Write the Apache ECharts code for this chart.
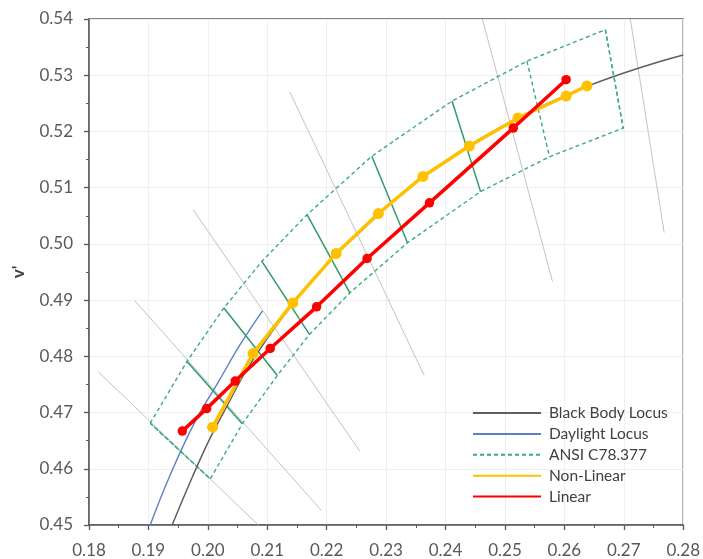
<!DOCTYPE html>
<html>
<head>
<meta charset="utf-8">
<script src="https://cdn.jsdelivr.net/npm/echarts@6/dist/echarts.min.js"></script>
<style>
  html, body { margin: 0; padding: 0; background: #ffffff; }
  #chart { width: 703px; height: 559px; }
</style>
</head>
<body>
<div id="chart"></div>
<script>
// Axis ticks
const xTicks = [0.18, 0.19, 0.20, 0.21, 0.22, 0.23, 0.24, 0.25, 0.26, 0.27, 0.28];
const yTicks = [0.45, 0.46, 0.47, 0.48, 0.49, 0.50, 0.51, 0.52, 0.53, 0.54];

// Planckian (black body) locus in u'v'
const bbU = [0.1940, 0.1975, 0.2004, 0.2035, 0.2062, 0.2100, 0.2143, 0.2180, 0.2216, 0.2251,
             0.2287, 0.2325, 0.2362, 0.2400, 0.2440, 0.2480, 0.2522, 0.2560, 0.2603, 0.2640,
             0.2700, 0.2750, 0.2800];
const bbV = [0.4500, 0.4588, 0.4655, 0.4717, 0.4770, 0.4832, 0.4893, 0.4940, 0.4982, 0.5016,
             0.5052, 0.5088, 0.5118, 0.5147, 0.5175, 0.5200, 0.5224, 0.5244, 0.5264, 0.5281,
             0.5304, 0.5321, 0.5336];

// Daylight locus (D75 .. D50)
const dayU = [0.1903, 0.1935, 0.1978, 0.2018, 0.2055, 0.2092];
const dayV = [0.4500, 0.4585, 0.4683, 0.4755, 0.4822, 0.4881];

// ANSI C78.377 quadrangle corners: upper and lower edges, 6500 K -> 2700 K
const ansiUpperU = [0.1903, 0.1965, 0.2027, 0.2091, 0.2167, 0.2276, 0.2411, 0.2537, 0.2669];
const ansiUpperV = [0.4681, 0.4791, 0.4886, 0.4969, 0.5052, 0.5156, 0.5254, 0.5325, 0.5381];
const ansiLowerU = [0.2004, 0.2058, 0.2117, 0.2171, 0.2239, 0.2336, 0.2459, 0.2575, 0.2699];
const ansiLowerV = [0.4582, 0.4680, 0.4766, 0.4839, 0.4913, 0.5002, 0.5093, 0.5155, 0.5206];
// dividers drawn solid (indices into the corner lists); the rest are dashed
const solidDividers = [1, 2, 3, 4, 5, 6];
const dashedDividers = [0, 7, 8];

// Iso-CCT lines: start u, start v, end u, end v
const isoStartU = [0.1815, 0.1877, 0.1975, 0.2138, 0.2462, 0.2711];
const isoStartV = [0.4773, 0.4899, 0.5061, 0.5270, 0.5400, 0.5400];
const isoEndU   = [0.2085, 0.2191, 0.2256, 0.2364, 0.2580, 0.2768];
const isoEndV   = [0.4500, 0.4526, 0.4631, 0.4766, 0.4933, 0.5020];

// Measured chromaticities
const nonLinearU = [0.2008, 0.2076, 0.2143, 0.2216, 0.2287, 0.2362, 0.2440, 0.2522, 0.2603, 0.2638];
const nonLinearV = [0.4674, 0.4805, 0.4895, 0.4983, 0.5054, 0.5120, 0.5174, 0.5224, 0.5263, 0.5281];
const linearU = [0.1957, 0.1998, 0.2046, 0.2105, 0.2183, 0.2268, 0.2373, 0.2514, 0.2603];
const linearV = [0.4667, 0.4707, 0.4756, 0.4814, 0.4888, 0.4974, 0.5073, 0.5206, 0.5292];

const zip = (us, vs) => us.map((u, i) => [u, vs[i]]);

const GREEN_DASH = '#3dab7d';
const GREEN_SOLID = '#2f9b69';
const AXIS = '#595959';

const series = [];

// iso-CCT lines
isoStartU.forEach((u, i) => {
  series.push({
    type: 'line', name: 'iso' + i, silent: true, symbol: 'none', z: 1,
    data: [[u, isoStartV[i]], [isoEndU[i], isoEndV[i]]],
    lineStyle: { color: '#c3c3c3', width: 1 }
  });
});

// ANSI outline (upper edge, far end, lower edge back, near end)
const outline = zip(ansiUpperU, ansiUpperV).concat(zip(ansiLowerU, ansiLowerV).reverse());
outline.push([ansiUpperU[0], ansiUpperV[0]]);
series.push({
  type: 'line', name: 'ANSI C78.377', symbol: 'none', z: 2,
  data: outline,
  lineStyle: { color: GREEN_DASH, width: 1.4, type: [4, 3] }
});
dashedDividers.forEach(k => {
  series.push({
    type: 'line', name: 'ANSI C78.377', symbol: 'none', z: 2,
    data: [[ansiUpperU[k], ansiUpperV[k]], [ansiLowerU[k], ansiLowerV[k]]],
    lineStyle: { color: GREEN_DASH, width: 1.4, type: [4, 3] }
  });
});
solidDividers.forEach(k => {
  series.push({
    type: 'line', name: 'divider' + k, symbol: 'none', z: 2,
    data: [[ansiUpperU[k], ansiUpperV[k]], [ansiLowerU[k], ansiLowerV[k]]],
    lineStyle: { color: GREEN_SOLID, width: 1.5 }
  });
});

series.push({
  type: 'line', name: 'Black Body Locus', symbol: 'none', smooth: 0.4, z: 3,
  data: zip(bbU, bbV),
  lineStyle: { color: '#5f5f5f', width: 1.5 }
});
series.push({
  type: 'line', name: 'Daylight Locus', symbol: 'none', smooth: 0.4, z: 3,
  data: zip(dayU, dayV),
  lineStyle: { color: '#5b80c4', width: 1.4 }
});
series.push({
  type: 'line', name: 'Non-Linear', symbol: 'circle', symbolSize: 11, z: 4,
  data: zip(nonLinearU, nonLinearV),
  lineStyle: { color: '#ffc000', width: 3.5 },
  itemStyle: { color: '#ffc000' }
});
series.push({
  type: 'line', name: 'Linear', symbol: 'circle', symbolSize: 9.5, z: 5,
  data: zip(linearU, linearV),
  lineStyle: { color: '#ff0000', width: 3.5 },
  itemStyle: { color: '#ff0000' }
});

const labelFont = { fontFamily: 'Lato', fontSize: 17, color: AXIS };

const option = {
  animation: false,
  backgroundColor: '#ffffff',
  grid: {
    left: 89, right: 19, top: 19, bottom: 34,
    show: true, borderColor: AXIS, borderWidth: 1.3, backgroundColor: 'transparent'
  },
  legend: {
    data: ['Black Body Locus', 'Daylight Locus', 'ANSI C78.377', 'Non-Linear', 'Linear'],
    orient: 'vertical', left: 472, top: 405, padding: 0,
    itemWidth: 68, itemHeight: 14, itemGap: 4.9,
    itemStyle: { opacity: 0 },
    textStyle: { fontFamily: 'Lato', fontSize: 15.5, color: '#404040', padding: [0, 0, 0, 3] }
  },
  xAxis: {
    type: 'value', min: xTicks[0], max: xTicks[xTicks.length - 1], interval: 0.01,
    axisLine: { show: true, onZero: false, lineStyle: { color: AXIS, width: 1.5 } },
    axisTick: { show: true, length: 5, lineStyle: { color: AXIS, width: 1.3 } },
    minorTick: { show: true, splitNumber: 2, length: 3, lineStyle: { color: AXIS, width: 1 } },
    splitLine: { show: true, lineStyle: { color: '#efefef', width: 1 } },
    axisLabel: Object.assign({ margin: 17, formatter: v => v.toFixed(2) }, labelFont)
  },
  yAxis: {
    type: 'value', min: yTicks[0], max: yTicks[yTicks.length - 1], interval: 0.01,
    name: "v'", nameLocation: 'middle', nameGap: 62, nameRotate: 90,
    nameTextStyle: { fontFamily: 'Lato', fontSize: 17, fontWeight: 'bold', color: '#404040' },
    axisLine: { show: true, onZero: false, lineStyle: { color: AXIS, width: 1.5 } },
    axisTick: { show: true, length: 5, lineStyle: { color: AXIS, width: 1.3 } },
    minorTick: { show: true, splitNumber: 2, length: 3, lineStyle: { color: AXIS, width: 1 } },
    splitLine: { show: true, lineStyle: { color: '#efefef', width: 1 } },
    axisLabel: Object.assign({ margin: 16, formatter: v => v.toFixed(2) }, labelFont)
  },
  series: series
};

const chart = echarts.init(document.getElementById('chart'), null, { renderer: 'canvas' });
chart.setOption(option);
</script>
</body>
</html>
